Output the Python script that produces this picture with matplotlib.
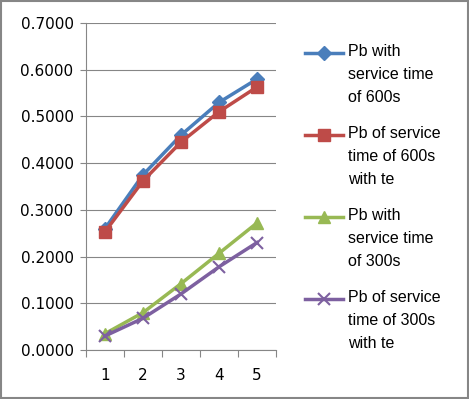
import matplotlib.pyplot as plt
from matplotlib.lines import Line2D
from matplotlib.patches import Rectangle

categories = [1, 2, 3, 4, 5]
pb_600 = [0.260, 0.375, 0.460, 0.530, 0.580]
pb_600_te = [0.253, 0.362, 0.445, 0.510, 0.563]
pb_300 = [0.035, 0.080, 0.142, 0.207, 0.272]
pb_300_te = [0.030, 0.068, 0.120, 0.178, 0.230]
labels = [
    "Pb with\nservice time\nof 600s",
    "Pb of service\ntime of 600s\nwith te",
    "Pb with\nservice time\nof 300s",
    "Pb of service\ntime of 300s\nwith te",
]

W, H = 469, 399
fig = plt.figure(figsize=(W / 100, H / 100), dpi=100)
ax = fig.add_axes([86 / W, 1 - 350 / H, 190 / W, 327 / H])

styles = [
    dict(color="#4A7EBB", marker="D", ms=7),
    dict(color="#BE4B48", marker="s", ms=9),
    dict(color="#98B954", marker="^", ms=9),
    dict(color="#7D60A0", marker="x", ms=9, mew=1.5),
]
series = [pb_600, pb_600_te, pb_300, pb_300_te]
for vals, st, lab in zip(series, styles, labels):
    ax.plot(categories, vals, lw=2.5, label=lab, **st)

ax.set_xlim(0.5, 5.5)
ax.set_ylim(0, 0.7)
ax.set_yticks([i / 10 for i in range(8)])
ax.set_yticklabels(["%.4f" % (i / 10) for i in range(8)])
ax.set_xticks([0.5 + i for i in range(6)])
ax.set_xticklabels([])
ax.set_xticks(categories, minor=True)
ax.set_xticklabels([str(c) for c in categories], minor=True)
ax.tick_params(axis="x", which="major", length=5, color="#868686", direction="out")
ax.tick_params(axis="x", which="minor", length=0, pad=13, labelsize=11)
ax.tick_params(axis="y", length=4, color="#868686", labelsize=11, pad=5)
ax.grid(axis="y", color="#868686", lw=0.8)
ax.set_axisbelow(True)
for s in ["top", "right"]:
    ax.spines[s].set_visible(False)
for s in ["left", "bottom"]:
    ax.spines[s].set_color("#868686")

# legend, handle level with the first text line
first_line_y = [53, 135, 217, 299]
for y, st, lab in zip(first_line_y, styles, labels):
    fy = 1 - y / H
    fig.add_artist(Line2D([305 / W, 343 / W], [fy, fy], lw=2.5, color=st["color"]))
    fig.add_artist(Line2D([324 / W], [fy], lw=0, transform=fig.transFigure, **st))
    fig.text(348 / W, 1 - (y - 9) / H, lab, ha="left", va="top", family="Liberation Sans",
             fontsize=11.5, linespacing=1.65)

fig.patches.append(Rectangle((0.002, 0.002), 0.996, 0.996, transform=fig.transFigure,
                             fill=False, edgecolor="#868686", lw=1.5))

fig.savefig("out.png", dpi=100)
